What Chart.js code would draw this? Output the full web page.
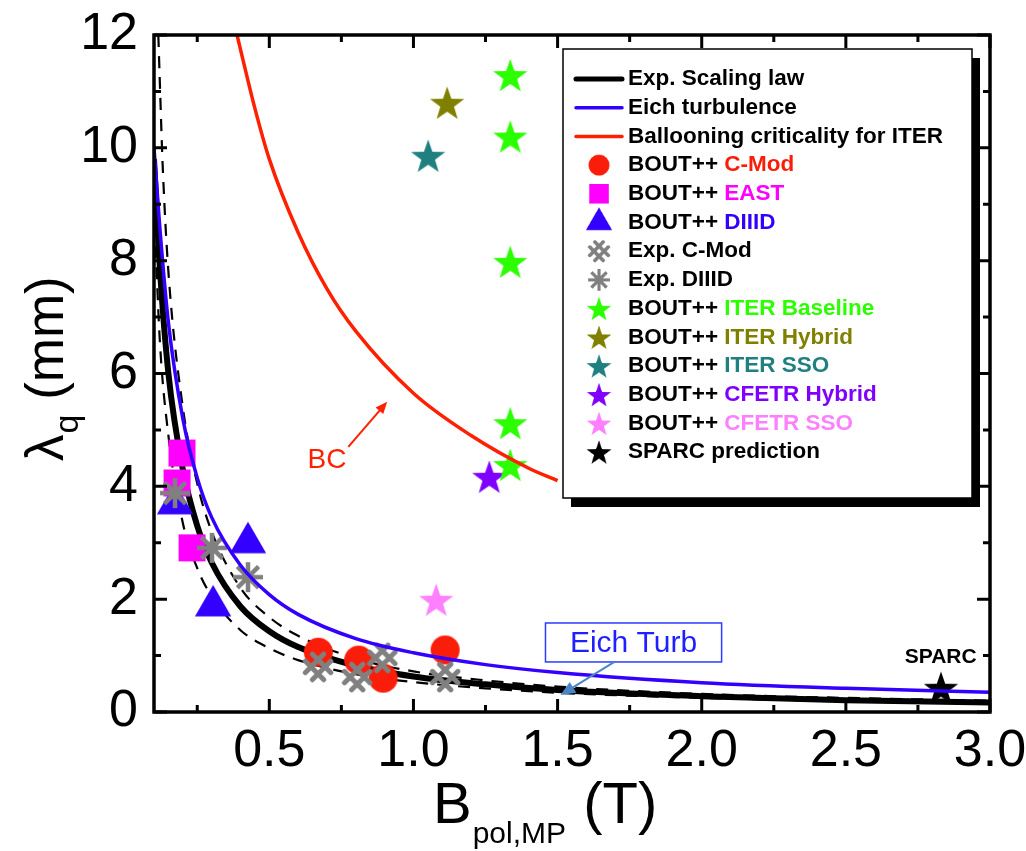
<!DOCTYPE html>
<html>
<head>
<meta charset="utf-8">
<title>lambda_q vs B_pol</title>
<script src="https://cdn.jsdelivr.net/npm/chart.js@4.4.0/dist/chart.umd.min.js"></script>
<style>
  html, body { margin: 0; padding: 0; background: #fff; }
  canvas { display: block; }
</style>
</head>
<body>
<canvas id="chart" width="1026" height="851"></canvas>
<script>
// curves
const scalingB = [0.1, 0.12, 0.15, 0.2, 0.25, 0.3, 0.4, 0.5, 0.6, 0.8, 1.0, 1.25, 1.5, 2.0, 2.5, 3.0];
const expScaling = [9.8, 7.9, 6.0, 4.3, 3.3, 2.65, 1.87, 1.43, 1.15, 0.82, 0.63, 0.49, 0.39, 0.28, 0.21, 0.17];
const expLower = [9.0, 6.6, 4.9, 3.35, 2.55, 2.05, 1.45, 1.13, 0.92, 0.67, 0.53, 0.42, 0.34, 0.25, 0.19, 0.15];
const upperB = [0.115, 0.12, 0.13, 0.15, 0.2, 0.25, 0.3, 0.4, 0.5, 0.6, 0.8, 1.0, 1.25, 1.5, 2.0, 2.5, 3.0];
const expUpper = [12.0, 11.2, 9.7, 7.8, 5.4, 4.05, 3.2, 2.2, 1.68, 1.35, 0.95, 0.72, 0.56, 0.45, 0.32, 0.25, 0.2];
const eichTurb = [10.0, 8.6, 6.9, 5.2, 4.15, 3.45, 2.6, 2.08, 1.73, 1.3, 1.05, 0.84, 0.7, 0.52, 0.42, 0.35];
const ballooningB = [0.388, 0.45, 0.5, 0.6, 0.7, 0.8, 1.0, 1.2, 1.4, 1.5];
const ballooning = [12.0, 10.7, 9.8, 8.5, 7.5, 6.75, 5.65, 4.9, 4.32, 4.1];

// scatter points
const cmodB = [0.67, 0.81, 0.895, 1.11];
const cmodLq = [1.06, 0.92, 0.60, 1.10];
const eastB = [0.197, 0.18, 0.232];
const eastLq = [4.59, 4.06, 2.91];
const diiidB = [0.173, 0.426, 0.305];
const diiidLq = [3.69, 3.0, 1.88];
const expCmodB = [0.669, 0.805, 0.892, 1.11];
const expCmodLq = [0.80, 0.62, 0.96, 0.62];
const expDiiidB = [0.173, 0.301, 0.426];
const expDiiidLq = [3.88, 2.91, 2.39];
const iterBaseB = [1.336, 1.336, 1.336, 1.336, 1.336];
const iterBaseLq = [11.29, 10.2, 7.98, 5.12, 4.38];
const iterHybridB = [1.117];
const iterHybridLq = [10.8];
const iterSsoB = [1.051];
const iterSsoLq = [9.86];
const cfetrHybridB = [1.263];
const cfetrHybridLq = [4.17];
const cfetrSsoB = [1.079];
const cfetrSsoLq = [1.99];
const sparcB = [2.83];
const sparcLq = [0.43];

// axis ticks
const xMajorTicks = [0.5, 1.0, 1.5, 2.0, 2.5, 3.0];
const xMinorTicks = [0.25, 0.75, 1.25, 1.75, 2.25, 2.75];
const yMajorTicks = [0, 2, 4, 6, 8, 10, 12];
const yMinorTicks = [1, 3, 5, 7, 9, 11];

const FONT = '"Liberation Sans", Arial, sans-serif';

function pts(xs, ys) {
  return xs.map((x, i) => ({ x: x, y: ys[i] }));
}

// marker images
function makeCanvas(size) {
  const c = document.createElement('canvas');
  c.width = size; c.height = size;
  return c;
}
function circleImg(color, r) {
  const c = makeCanvas(Math.ceil(r * 2 + 2));
  const g = c.getContext('2d');
  g.fillStyle = color;
  g.beginPath(); g.arc(c.width / 2, c.height / 2, r, 0, Math.PI * 2); g.fill();
  return c;
}
function squareImg(color, side) {
  const c = makeCanvas(Math.ceil(side + 2));
  const g = c.getContext('2d');
  g.fillStyle = color;
  g.fillRect(1, 1, side, side);
  return c;
}
function triangleImg(color, r) {
  const c = makeCanvas(Math.ceil(r * 2 + 2));
  const g = c.getContext('2d');
  const cx = c.width / 2, cy = c.height / 2;
  g.fillStyle = color;
  g.beginPath();
  for (let i = 0; i < 3; i++) {
    const a = -Math.PI / 2 + i * 2 * Math.PI / 3;
    const px = cx + r * Math.cos(a), py = cy + r * Math.sin(a);
    i === 0 ? g.moveTo(px, py) : g.lineTo(px, py);
  }
  g.closePath(); g.fill();
  return c;
}
function starImg(color, r) {
  const c = makeCanvas(Math.ceil(r * 2 + 2));
  const g = c.getContext('2d');
  const cx = c.width / 2, cy = c.height / 2 + r * 0.1;
  g.fillStyle = color;
  g.beginPath();
  for (let i = 0; i < 10; i++) {
    const rad = i % 2 === 0 ? r : r * 0.4;
    const a = -Math.PI / 2 + i * Math.PI / 5;
    const px = cx + rad * Math.cos(a), py = cy + rad * Math.sin(a);
    i === 0 ? g.moveTo(px, py) : g.lineTo(px, py);
  }
  g.closePath(); g.fill();
  return c;
}
function hatchImg(color, r) {
  const c = makeCanvas(Math.ceil(r * 2 + 6));
  const g = c.getContext('2d');
  const cx = c.width / 2, cy = c.height / 2, k = Math.SQRT1_2;
  g.strokeStyle = color; g.lineWidth = 5; g.lineCap = 'round';
  g.beginPath();
  [-5, 5].forEach(d => {
    // "\" lines
    g.moveTo(cx + d * k - r * k, cy - d * k - r * k);
    g.lineTo(cx + d * k + r * k, cy - d * k + r * k);
    // "/" lines
    g.moveTo(cx + d * k - r * k, cy + d * k + r * k);
    g.lineTo(cx + d * k + r * k, cy + d * k - r * k);
  });
  g.stroke();
  return c;
}
function asteriskImg(color, r) {
  const c = makeCanvas(Math.ceil(r * 2 + 6));
  const g = c.getContext('2d');
  const cx = c.width / 2, cy = c.height / 2;
  g.strokeStyle = color; g.lineWidth = 4.5;
  g.beginPath();
  for (let i = 0; i < 4; i++) {
    const a = i * Math.PI / 4;
    g.moveTo(cx - r * Math.cos(a), cy - r * Math.sin(a));
    g.lineTo(cx + r * Math.cos(a), cy + r * Math.sin(a));
  }
  g.stroke();
  return c;
}

function curve(label, xs, ys, color, width, dash, order) {
  return {
    label: label, data: pts(xs, ys), showLine: true, borderColor: color, backgroundColor: color,
    borderWidth: width, borderDash: dash, pointRadius: 0, cubicInterpolationMode: 'monotone', order: order
  };
}
function marks(label, xs, ys, img, textColor, order) {
  return {
    label: label, data: pts(xs, ys), showLine: false, pointStyle: img, pointRadius: 10,
    textColor: textColor, order: order
  };
}

const datasets = [
  curve('Exp. Scaling law', scalingB, expScaling, '#000000', 6, [], 6),
  curve('', upperB, expUpper, '#000000', 2.2, [12, 9], 6),
  curve('', scalingB, expLower, '#000000', 2.2, [12, 9], 6),
  curve('Eich turbulence', scalingB, eichTurb, '#3300ff', 3.5, [], 0),
  curve('Ballooning criticality for ITER', ballooningB, ballooning, '#ff2000', 3.5, [], 1),
  marks('BOUT++ C-Mod', cmodB, cmodLq, circleImg('#fa1e0a', 14.5), '#fa1e0a', 4),
  marks('BOUT++ EAST', eastB, eastLq, squareImg('#ff00ff', 27), '#ff00ff', 3),
  marks('BOUT++ DIIID', diiidB, diiidLq, triangleImg('#3300ff', 21), '#3300ff', 4),
  marks('Exp. C-Mod', expCmodB, expCmodLq, hatchImg('#808080', 13), '#000', 2),
  marks('Exp. DIIID', expDiiidB, expDiiidLq, asteriskImg('#808080', 15), '#000', 2),
  marks('BOUT++ ITER Baseline', iterBaseB, iterBaseLq, starImg('#2bff00', 18), '#2bff00', 3),
  marks('BOUT++ ITER Hybrid', iterHybridB, iterHybridLq, starImg('#808000', 18), '#808000', 3),
  marks('BOUT++ ITER SSO', iterSsoB, iterSsoLq, starImg('#208080', 18), '#208080', 3),
  marks('BOUT++ CFETR Hybrid', cfetrHybridB, cfetrHybridLq, starImg('#8000ff', 18), '#8000ff', 3),
  marks('BOUT++ CFETR SSO', cfetrSsoB, cfetrSsoLq, starImg('#ff80ff', 18), '#ff80ff', 3),
  marks('SPARC prediction', sparcB, sparcLq, starImg('#000000', 18), '#000', 3)
];

function arrow(ctx, x1, y1, x2, y2, color, width, head) {
  const a = Math.atan2(y2 - y1, x2 - x1);
  ctx.strokeStyle = color; ctx.fillStyle = color; ctx.lineWidth = width;
  ctx.beginPath();
  ctx.moveTo(x1, y1);
  ctx.lineTo(x2 - head * 0.8 * Math.cos(a), y2 - head * 0.8 * Math.sin(a));
  ctx.stroke();
  ctx.beginPath();
  ctx.moveTo(x2, y2);
  ctx.lineTo(x2 - head * Math.cos(a - 0.4), y2 - head * Math.sin(a - 0.4));
  ctx.lineTo(x2 - head * Math.cos(a + 0.4), y2 - head * Math.sin(a + 0.4));
  ctx.closePath(); ctx.fill();
}

// frame, inward ticks, axis titles, notes, legend
const decorations = {
  id: 'decorations',
  afterDraw(chart) {
    const ctx = chart.ctx;
    const a = chart.chartArea;
    const x = chart.scales.x, y = chart.scales.y;
    ctx.save();

    // ticks
    ctx.strokeStyle = '#000';
    ctx.lineWidth = 3;
    ctx.beginPath();
    const xt = (v, len) => {
      const p = x.getPixelForValue(v);
      ctx.moveTo(p, a.bottom); ctx.lineTo(p, a.bottom - len);
      ctx.moveTo(p, a.top); ctx.lineTo(p, a.top + len);
    };
    const yt = (v, len) => {
      const p = y.getPixelForValue(v);
      ctx.moveTo(a.left, p); ctx.lineTo(a.left + len, p);
      ctx.moveTo(a.right, p); ctx.lineTo(a.right - len, p);
    };
    xMajorTicks.forEach(v => xt(v, 13));
    xMinorTicks.forEach(v => xt(v, 7));
    yMajorTicks.forEach(v => yt(v, 13));
    yMinorTicks.forEach(v => yt(v, 7));
    ctx.stroke();
    ctx.lineWidth = 3.5;
    ctx.strokeRect(a.left, a.top, a.right - a.left, a.bottom - a.top);

    // y title: lambda_q (mm)
    ctx.save();
    ctx.translate(63, 461);
    ctx.rotate(-Math.PI / 2);
    ctx.fillStyle = '#000';
    ctx.textBaseline = 'alphabetic';
    ctx.font = '53px ' + FONT;
    ctx.fillText('λ', 0, 0);
    let w = ctx.measureText('λ').width;
    ctx.font = '34px ' + FONT;
    ctx.fillText('q', w + 1, 15);
    w += ctx.measureText('q').width + 1;
    ctx.font = '53px ' + FONT;
    ctx.fillText(' (mm)', w, 0);
    ctx.restore();

    // x title: B_pol,MP (T)
    ctx.fillStyle = '#000';
    ctx.textBaseline = 'alphabetic';
    ctx.font = '58px ' + FONT;
    let tx = 433;
    ctx.fillText('B', tx, 823);
    tx += ctx.measureText('B').width;
    ctx.font = '30px ' + FONT;
    ctx.fillText('pol,MP', tx + 1, 843);
    tx += ctx.measureText('pol,MP').width + 2;
    ctx.font = '58px ' + FONT;
    ctx.fillText(' (T)', tx, 823);

    // BC note
    ctx.fillStyle = '#ff2000';
    ctx.font = '28px ' + FONT;
    ctx.textAlign = 'center'; ctx.textBaseline = 'middle';
    ctx.fillText('BC', x.getPixelForValue(0.70), y.getPixelForValue(4.47));
    arrow(ctx, x.getPixelForValue(0.774), y.getPixelForValue(4.70),
      x.getPixelForValue(0.909), y.getPixelForValue(5.50), '#ff2000', 2, 13);

    // Eich Turb note
    const bx1 = x.getPixelForValue(1.458), bx2 = x.getPixelForValue(2.069);
    const by1 = y.getPixelForValue(1.578), by2 = y.getPixelForValue(0.887);
    ctx.fillStyle = '#fff';
    ctx.fillRect(bx1, by1, bx2 - bx1, by2 - by1);
    ctx.strokeStyle = '#2a3cff'; ctx.lineWidth = 1.5;
    ctx.strokeRect(bx1, by1, bx2 - bx1, by2 - by1);
    ctx.fillStyle = '#1f1fff';
    ctx.font = '30px ' + FONT;
    ctx.fillText('Eich Turb', (bx1 + bx2) / 2, (by1 + by2) / 2 + 1);
    arrow(ctx, x.getPixelForValue(1.697), by2, x.getPixelForValue(1.51), y.getPixelForValue(0.30), '#4a86c5', 2, 16);

    // SPARC note
    ctx.fillStyle = '#000';
    ctx.font = 'bold 21px ' + FONT;
    ctx.fillText('SPARC', x.getPixelForValue(2.829), y.getPixelForValue(0.975));

    // legend box with shadow
    const L = 563, T = 49, W = 409, H = 449;
    ctx.fillStyle = '#000';
    ctx.fillRect(L + 8, T + 9, W, H);
    ctx.fillStyle = '#fff';
    ctx.fillRect(L, T, W, H);
    ctx.strokeStyle = '#000'; ctx.lineWidth = 1.5;
    ctx.strokeRect(L, T, W, H);

    ctx.textAlign = 'left';
    ctx.font = 'bold 22.5px ' + FONT;
    let row = 0;
    chart.data.datasets.forEach(ds => {
      if (!ds.label) return;
      const cy = 79 + row * 28.7;
      row++;
      if (ds.showLine) {
        ctx.strokeStyle = ds.borderColor;
        ctx.lineWidth = Math.min(ds.borderWidth, 5);
        ctx.lineCap = 'round';
        ctx.beginPath(); ctx.moveTo(576, cy); ctx.lineTo(622, cy); ctx.stroke();
        ctx.lineCap = 'butt';
      } else {
        const img = ds.pointStyle, s = 0.72;
        ctx.drawImage(img, 599 - img.width * s / 2, cy - img.height * s / 2, img.width * s, img.height * s);
      }
      let lx = 628, rest = ds.label;
      if (rest.startsWith('BOUT++ ')) {
        ctx.fillStyle = '#000';
        ctx.fillText('BOUT++ ', lx, cy);
        lx += ctx.measureText('BOUT++ ').width;
        rest = rest.slice(7);
        ctx.fillStyle = ds.textColor;
      } else {
        ctx.fillStyle = '#000';
      }
      ctx.fillText(rest, lx, cy);
    });
    ctx.restore();
  }
};

const ctx = document.getElementById('chart').getContext('2d');
new Chart(ctx, {
  type: 'scatter',
  data: { datasets: datasets },
  options: {
    responsive: false,
    animation: false,
    devicePixelRatio: 1,
    layout: { padding: { left: 0, top: 35, right: 36, bottom: 0 } },
    plugins: { legend: { display: false }, tooltip: { enabled: false } },
    scales: {
      x: {
        type: 'linear', min: 0.1, max: 3.0,
        grid: { display: false, drawTicks: false },
        border: { display: false },
        afterBuildTicks: s => { s.ticks = xMajorTicks.map(v => ({ value: v })); },
        afterFit: s => { s.height = 139; s.paddingLeft = 0; s.paddingRight = 0; },
        ticks: {
          color: '#000', font: { family: FONT, size: 52 }, padding: 8, maxRotation: 0, autoSkip: false,
          callback: v => v.toFixed(1)
        }
      },
      y: {
        type: 'linear', min: 0, max: 12,
        grid: { display: false, drawTicks: false },
        border: { display: false },
        afterBuildTicks: s => { s.ticks = yMajorTicks.map(v => ({ value: v })); },
        afterFit: s => { s.width = 154; s.paddingTop = 0; s.paddingBottom = 0; },
        ticks: { color: '#000', font: { family: FONT, size: 52 }, padding: 16, autoSkip: false }
      }
    }
  },
  plugins: [decorations]
});
</script>
</body>
</html>
